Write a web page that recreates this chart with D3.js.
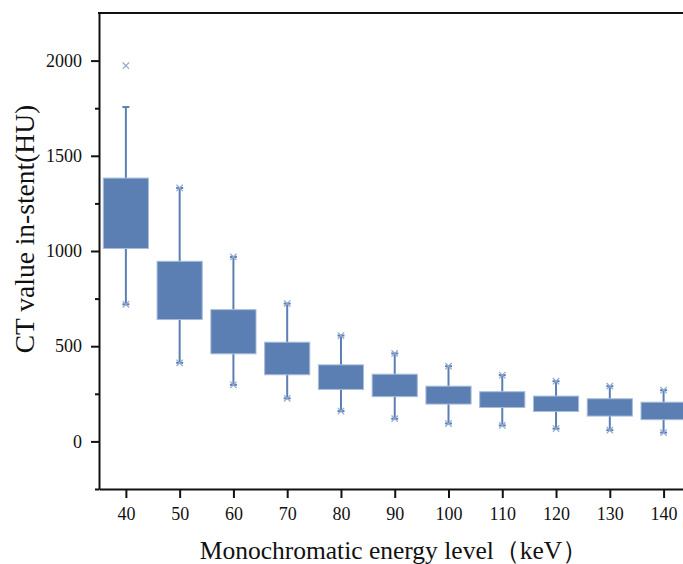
<!DOCTYPE html>
<html>
<head>
<meta charset="utf-8">
<script src="https://cdn.jsdelivr.net/npm/d3@7"></script>
<style>
  body { margin: 0; background: #fff; }
  svg { display: block; font-family: "Liberation Serif", "Times New Roman", serif; }
</style>
</head>
<body>
<svg id="chart" width="683" height="564"></svg>
<script>
// keV levels and box statistics (HU)
const energies    = [40, 50, 60, 70, 80, 90, 100, 110, 120, 130, 140];
const whiskerHigh = [1756, 1331, 969, 724, 556, 462, 395, 348, 316, 290, 269];
const q3          = [1383, 946, 692, 521, 402, 353, 290, 261, 238, 224, 206];
const q1          = [1013, 640, 460, 350, 273, 235, 196, 178, 157, 133, 114];
const whiskerLow  = [720, 413, 297, 226, 159, 119, 94, 84, 67, 59, 46];
const maxValues   = [1973, 1331, 969, 724, 556, 462, 395, 348, 316, 290, 269];
const minValues   = [720, 413, 297, 226, 159, 119, 94, 84, 67, 59, 46];
const yTicks      = [0, 500, 1000, 1500, 2000];
const yMinorTicks = [-250, 250, 750, 1250, 1750];

const boxFill = "#5b7fb3",
    boxEdge = "#a9bddb",
    markColor = "#8fa9d0";

const svg = d3.select("#chart");
const plotLeft = 99, plotTop = 13, plotBottom = 489;

const x = d3.scaleLinear().domain([35, 145]).range([plotLeft, plotLeft + 110 * 5.377]);
const y = d3.scaleLinear().domain([-250, 2250]).range([plotBottom, plotTop]);

const boxes = energies.map((e, i) => ({
    e: e, hi: whiskerHigh[i], q3: q3[i], q1: q1[i], lo: whiskerLow[i],
    max: maxValues[i], min: minValues[i]
}));

const boxW = x(8.4) - x(0);
const capW = x(1.3) - x(0);

const g = svg.append("g");

// whiskers
g.selectAll(".whisker")
    .data(boxes)
    .join("line")
    .attr("class", "whisker")
    .attr("x1", d => x(d.e)).attr("x2", d => x(d.e))
    .attr("y1", d => y(d.hi)).attr("y2", d => y(d.lo))
    .attr("stroke", boxFill)
    .attr("stroke-width", 2);

// caps
["hi", "lo"].forEach(k => {
    g.selectAll(".cap" + k)
        .data(boxes)
        .join("line")
        .attr("class", "cap" + k)
        .attr("x1", d => x(d.e) - capW / 2).attr("x2", d => x(d.e) + capW / 2)
        .attr("y1", d => y(d[k])).attr("y2", d => y(d[k]))
        .attr("stroke", boxFill)
        .attr("stroke-width", 2);
});

// boxes
g.selectAll(".box")
    .data(boxes)
    .join("rect")
    .attr("class", "box")
    .attr("x", d => x(d.e) - boxW / 2)
    .attr("width", boxW)
    .attr("y", d => y(d.q3))
    .attr("height", d => y(d.q1) - y(d.q3))
    .attr("fill", boxFill)
    .attr("stroke", boxEdge)
    .attr("stroke-width", 1);

// min / max markers
const marks = [];
boxes.forEach(d => { marks.push({e: d.e, v: d.max}); marks.push({e: d.e, v: d.min}); });
const ms = 3.2;
g.selectAll(".mark")
    .data(marks)
    .join("path")
    .attr("class", "mark")
    .attr("d", d => {
        const cx = x(d.e), cy = y(d.v);
        return "M" + (cx - ms) + "," + (cy - ms) + "L" + (cx + ms) + "," + (cy + ms) +
            "M" + (cx - ms) + "," + (cy + ms) + "L" + (cx + ms) + "," + (cy - ms);
    })
    .attr("stroke", markColor)
    .attr("stroke-width", 1.2)
    .attr("fill", "none");

// axes
svg.append("g")
    .attr("transform", "translate(" + plotLeft + ",0)")
    .call(d3.axisLeft(y).tickValues(yTicks).tickSize(8).tickSizeOuter(0).tickPadding(9).tickFormat(d3.format("d")));
svg.append("g")
    .attr("transform", "translate(" + plotLeft + ",0)")
    .call(d3.axisLeft(y).tickValues(yMinorTicks).tickSize(4).tickSizeOuter(0).tickFormat(""))
    .call(a => a.select(".domain").remove());

svg.append("g")
    .attr("transform", "translate(0," + plotBottom + ")")
    .call(d3.axisBottom(x).tickValues(energies).tickSize(9).tickSizeOuter(0).tickPadding(9).tickFormat(d3.format("d")));

svg.selectAll(".tick line").attr("stroke", "#111").attr("stroke-width", 2);
svg.selectAll(".domain").attr("stroke", "#111").attr("stroke-width", 2);
svg.selectAll(".tick text")
    .attr("fill", "#111")
    .style("font-size", "18px")
    .style("font-family", "'Liberation Serif', serif");

// top frame
svg.append("line")
    .attr("x1", plotLeft - 1).attr("x2", x(145))
    .attr("y1", plotTop).attr("y2", plotTop)
    .attr("stroke", "#111").attr("stroke-width", 2);

// titles
svg.append("text")
    .attr("x", 394).attr("y", 559)
    .attr("text-anchor", "middle")
    .style("font-size", "25.5px")
    .attr("fill", "#111")
    .text("Monochromatic energy level（keV）");

svg.append("text")
    .attr("transform", "translate(34,229) rotate(-90)")
    .attr("text-anchor", "middle")
    .style("font-size", "27.5px")
    .attr("fill", "#111")
    .text("CT value in-stent(HU)");
</script>
</body>
</html>
